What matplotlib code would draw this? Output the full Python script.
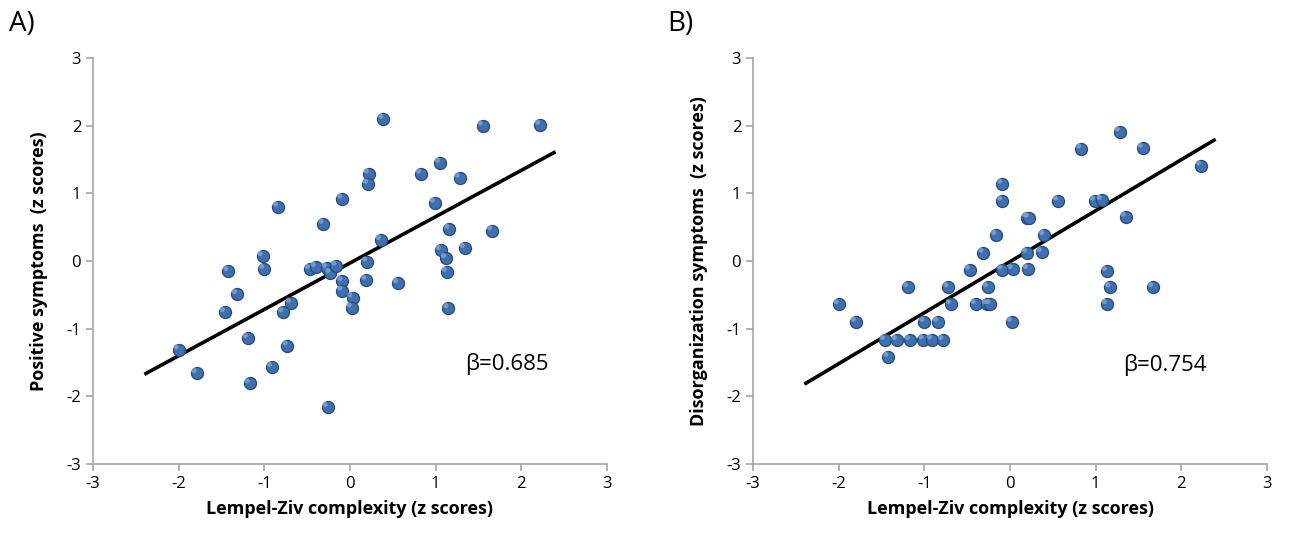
import matplotlib.pyplot as plt
import numpy as np

# Panel A : Positive symptoms vs Lempel-Ziv complexity
lz_a = [-0.84, -0.09, -0.31, -1.02, -1.42, -1.00, -0.47, -0.40, -0.27, -0.23,
        -0.16, -0.09, -0.09, -1.32, -0.69, 0.39, 1.55, 2.22, 0.22, 0.21,
        0.83, 1.05, 1.28, 0.99, 0.36, 1.16, 1.66, 1.06, 1.34, 1.12,
        1.13, 0.20, 0.19, 0.56, 0.03, 0.02, 1.15, -1.46, -0.78, -1.19,
        -2.00, -0.73, -1.79, -0.91, -1.17, -0.26]
pos_a = [0.80, 0.92, 0.55, 0.07, -0.15, -0.12, -0.12, -0.09, -0.10, -0.18,
         -0.07, -0.30, -0.44, -0.49, -0.62, 2.10, 2.00, 2.01, 1.29, 1.14,
         1.29, 1.45, 1.23, 0.86, 0.31, 0.47, 0.45, 0.16, 0.19, 0.04,
         -0.16, -0.01, -0.28, -0.33, -0.54, -0.69, -0.70, -0.76, -0.76, -1.14,
         -1.31, -1.25, -1.66, -1.57, -1.81, -2.16]

# Panel B : Disorganization symptoms vs Lempel-Ziv complexity
lz_b = [-0.09, -0.09, -0.16, -0.31, -0.47, -0.09, -1.19, -0.72, -0.26, 1.28,
        0.83, 1.55, 2.23, 0.56, 0.99, 1.07, 0.20, 0.22, 1.35, 0.40,
        0.20, 0.37, 0.03, 0.21, 1.13, 1.17, 1.67, 1.13, 0.02, -2.00,
        -1.80, -0.69, -0.40, -0.27, -0.23, -1.00, -0.84, -1.46, -1.32, -1.17,
        -1.01, -0.91, -0.78, -1.42]
dis_b = [1.14, 0.89, 0.38, 0.12, -0.13, -0.13, -0.39, -0.39, -0.39, 1.91,
         1.66, 1.67, 1.41, 0.89, 0.89, 0.90, 0.64, 0.64, 0.65, 0.38,
         0.12, 0.13, -0.12, -0.12, -0.15, -0.39, -0.39, -0.64, -0.90, -0.64,
         -0.90, -0.64, -0.64, -0.64, -0.64, -0.90, -0.90, -1.17, -1.17, -1.17,
         -1.16, -1.16, -1.17, -1.42]

# droites de régression
beta_a, icpt_a = 0.685, -0.03
beta_b, icpt_b = 0.754, -0.01
fit_range = [-2.4, 2.4]

ticks = [-3, -2, -1, 0, 1, 2, 3]
xlabel = "Lempel-Ziv complexity (z scores)"
ylabel_a = "Positive symptoms  (z scores)"
ylabel_b = "Disorganization symptoms  (z scores)"

plt.rcParams['font.family'] = ['Open Sans', 'DejaVu Sans']
plt.rcParams['axes.unicode_minus'] = False

fig = plt.figure(figsize=(12.9, 5.4), dpi=100)
ax_a = fig.add_axes([0.0721, 0.1407, 0.3984, 0.7519])
ax_b = fig.add_axes([0.5837, 0.1407, 0.3985, 0.7519])


def panel(ax, x, y, beta, icpt, ylabel, letter, fig_x, beta_pos):
    xs = np.array(fit_range)
    ax.plot(xs, beta * xs + icpt, color="black", lw=2.6, zorder=2, solid_capstyle='butt')
    ax.scatter(x, y, s=75, color="#3f6fae", edgecolors="#24497a", linewidths=0.9, zorder=3)
    # petit reflet pour l'effet sphère
    ax.scatter(np.array(x) - 0.03, np.array(y) + 0.04, s=14, color="#7ea6d8",
               edgecolors="none", alpha=0.8, zorder=4)
    ax.set_xlim(-3, 3)
    ax.set_ylim(-3, 3)
    ax.set_xticks(ticks)
    ax.set_yticks(ticks)
    for s in ["top", "right"]:
        ax.spines[s].set_visible(False)
    for s in ["left", "bottom"]:
        ax.spines[s].set_color("#a6a6a6")
        ax.spines[s].set_linewidth(1.2)
    ax.tick_params(direction="out", length=5, color="#a6a6a6", labelsize=12, width=1.2)
    ax.set_xlabel(xlabel, fontsize=13, fontweight="bold", labelpad=6)
    ax.set_ylabel(ylabel, fontsize=13, fontweight="bold", labelpad=13)
    ax.text(beta_pos[0], beta_pos[1], "β=%.3f" % beta, fontsize=16, ha="left", va="baseline")
    fig.text(fig_x, 0.955, letter, fontsize=20, ha="left", va="center")


panel(ax_a, lz_a, pos_a, beta_a, icpt_a, ylabel_a, "A)", 0.007, (1.34, -1.61))
panel(ax_b, lz_b, dis_b, beta_b, icpt_b, ylabel_b, "B)", 0.517, (1.32, -1.63))

fig.savefig("out.png", dpi=100)
